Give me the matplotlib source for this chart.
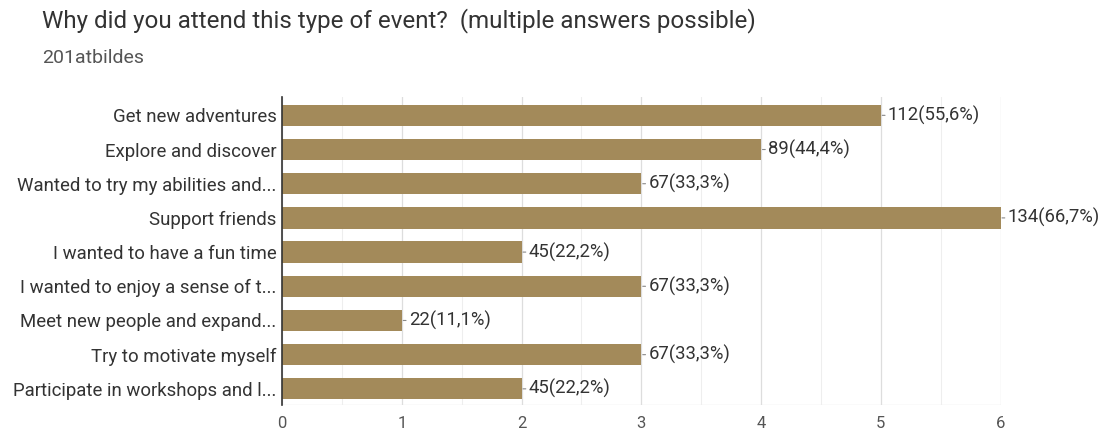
import matplotlib.pyplot as plt
import numpy as np

plt.rcParams['font.family'] = ['Roboto', 'DejaVu Sans']

# Donnees
categories = ['Get new adventures', 'Explore and discover', 'Wanted to try my abilities and...',
              'Support friends', 'I wanted to have a fun time', 'I wanted to enjoy a sense of t...',
              'Meet new people and expand...', 'Try to motivate myself', 'Participate in workshops and l...']
lengths = [5, 4, 3, 6, 2, 3, 1, 3, 2]
counts = [112, 89, 67, 134, 45, 67, 22, 67, 45]
percents = ['55,6%', '44,4%', '33,3%', '66,7%', '22,2%', '33,3%', '11,1%', '33,3%', '22,2%']

bar_color = '#A38A5A'

fig = plt.figure(figsize=(11.02, 4.34), dpi=100)
ax = fig.add_axes([0.256, 0.067, 0.652, 0.709])

y = np.arange(len(categories))
ax.barh(y, lengths, height=0.62, color=bar_color, zorder=3)
ax.set_ylim(8.47, -0.53)
ax.set_xlim(0, 6)

ax.set_yticks(y)
ax.set_yticklabels(categories, fontsize=13.4, color='#333333')
ax.set_xticks(range(7))
ax.set_xticklabels([str(i) for i in range(7)], fontsize=12, color='#555555')
ax.set_xticks(np.arange(0.5, 6, 1), minor=True)
ax.tick_params(axis='both', length=0, pad=4)
ax.tick_params(axis='x', pad=8)
ax.tick_params(axis='x', which='minor', length=0)

ax.grid(axis='x', which='major', color='#dddddd', linewidth=0.9, zorder=0)
ax.grid(axis='x', which='minor', color='#eeeeee', linewidth=0.8, zorder=0)
for side in ['top', 'bottom', 'right']:
    ax.spines[side].set_visible(False)
ax.spines['left'].set_color('#333333')
ax.spines['left'].set_linewidth(1.2)
ax.spines['left'].set_zorder(4)
ax.axhline(ax.get_ylim()[0], color='#dddddd', linewidth=0.9, zorder=1)

# etiquettes de valeur
for i in range(len(categories)):
    ax.annotate('%d(%s)' % (counts[i], percents[i]), xy=(lengths[i], y[i]),
                xytext=(5, 0), textcoords='offset points', va='center', ha='left',
                fontsize=13.3, color='#333333', annotation_clip=False,
                arrowprops=dict(arrowstyle='-', color='#888888', lw=0.8,
                                shrinkA=0, shrinkB=1))

fig.text(0.038, 0.952, 'Why did you attend this type of event?  (multiple answers possible)',
         fontsize=17.4, color='#333333', va='center', ha='left')
fig.text(0.038, 0.866, '201atbildes', fontsize=14, color='#555555', va='center', ha='left')

plt.savefig('out.png', dpi=100)
